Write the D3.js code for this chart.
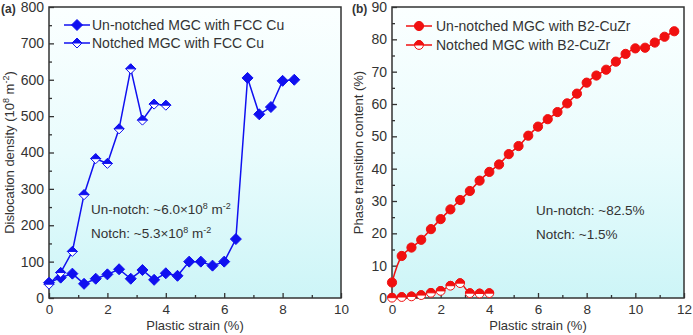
<!DOCTYPE html>
<html>
<head>
<meta charset="utf-8">
<script src="https://cdn.jsdelivr.net/npm/d3@7/dist/d3.min.js"></script>
<style>
  html, body { margin: 0; padding: 0; background: #fff; }
  svg { display: block; font-family: "Liberation Sans", Arial, sans-serif; }
</style>
</head>
<body>
<svg id="chart" width="693" height="335"></svg>
<script>
// ---- Panel (a): dislocation density, FCC Cu ----
const strainUnnotchedA = [0, 0.4, 0.8, 1.2, 1.6, 2.0, 2.4, 2.8, 3.2, 3.6, 4.0, 4.4, 4.8, 5.2, 5.6, 6.0, 6.4, 6.8, 7.2, 7.6, 8.0, 8.4];
const densityUnnotched = [42, 56, 67, 39, 53, 65, 79, 53, 77, 50, 68, 61, 100, 100, 89, 100, 162, 605, 505, 525, 597, 600];
const strainNotchedA = [0, 0.4, 0.8, 1.2, 1.6, 2.0, 2.4, 2.8, 3.2, 3.6, 4.0];
const densityNotched = [38, 70, 128, 284, 383, 370, 465, 630, 489, 533, 530];

// ---- Panel (b): phase transition content, B2-CuZr ----
const strainUnnotchedB = [0, 0.4, 0.8, 1.2, 1.6, 2.0, 2.4, 2.8, 3.2, 3.6, 4.0, 4.4, 4.8, 5.2, 5.6, 6.0, 6.4, 6.8, 7.2, 7.6, 8.0, 8.4, 8.8, 9.2, 9.6, 10.0, 10.4, 10.8, 11.2, 11.6];
const phaseUnnotched = [4.8, 13.0, 15.6, 18.0, 21.3, 24.4, 27.4, 30.3, 33.1, 36.3, 39.0, 41.3, 44.5, 47.0, 50.2, 53.0, 55.3, 57.5, 60.2, 63.2, 66.6, 68.8, 70.6, 73.1, 75.5, 77.2, 77.4, 79.0, 80.8, 82.5];
const strainNotchedB = [0, 0.4, 0.8, 1.2, 1.6, 2.0, 2.4, 2.8, 3.2, 3.6, 4.0];
const phaseNotched = [0.1, 0.3, 0.5, 0.9, 1.6, 2.2, 3.8, 4.6, 1.5, 1.4, 1.5];

// ---- Tick values ----
const ticksXA = [0, 2, 4, 6, 8, 10];
const minorXA = [1, 3, 5, 7, 9];
const ticksYA = [0, 100, 200, 300, 400, 500, 600, 700, 800];
const minorYA = [50, 150, 250, 350, 450, 550, 650, 750];
const ticksXB = [0, 2, 4, 6, 8, 10, 12];
const minorXB = [1, 3, 5, 7, 9, 11];
const ticksYB = [0, 10, 20, 30, 40, 50, 60, 70, 80, 90];
const minorYB = [5, 15, 25, 35, 45, 55, 65, 75, 85];

const BLUE = "#1010f0";
const RED = "#f01010";
const FRAME = "#333";

const svg = d3.select("#chart");

// Plot background gradient (white at top fading to pale cyan)
const defs = svg.append("defs");
const grad = defs.append("linearGradient").attr("id", "bg").attr("x1", 0).attr("y1", 0).attr("x2", 0).attr("y2", 1);
grad.append("stop").attr("offset", "0%").attr("stop-color", "#fbffff");
grad.append("stop").attr("offset", "50%").attr("stop-color", "#e9fcfd");
grad.append("stop").attr("offset", "100%").attr("stop-color", "#cdf5f7");

function diamondPath(r) {
  return `M0,${-r}L${r},0L0,${r}L${-r},0Z`;
}

function drawPanel(cfg) {
  const g = svg.append("g");
  const x = d3.scaleLinear().domain(cfg.xDomain).range([cfg.left, cfg.right]);
  const y = d3.scaleLinear().domain(cfg.yDomain).range([cfg.bottom, cfg.top]);

  g.append("rect")
    .attr("x", cfg.left).attr("y", cfg.top)
    .attr("width", cfg.right - cfg.left).attr("height", cfg.bottom - cfg.top)
    .attr("fill", "url(#bg)");

  // Axes with inward ticks
  const xAxis = g.append("g").attr("transform", `translate(0,${cfg.bottom})`)
    .call(d3.axisBottom(x).tickValues(cfg.xTicks).tickSize(-5).tickPadding(6).tickFormat(d3.format("d")));
  const xMinor = g.append("g").attr("transform", `translate(0,${cfg.bottom})`)
    .call(d3.axisBottom(x).tickValues(cfg.xMinor).tickSize(-3).tickFormat(""));
  const yAxis = g.append("g").attr("transform", `translate(${cfg.left},0)`)
    .call(d3.axisLeft(y).tickValues(cfg.yTicks).tickSize(-5).tickPadding(5).tickFormat(d3.format("d")));
  const yMinor = g.append("g").attr("transform", `translate(${cfg.left},0)`)
    .call(d3.axisLeft(y).tickValues(cfg.yMinor).tickSize(-3).tickFormat(""));

  [xAxis, xMinor, yAxis, yMinor].forEach(a => {
    a.select(".domain").remove();
    a.selectAll(".tick line").attr("stroke", FRAME).attr("stroke-width", 1.3);
    a.selectAll("text").attr("font-size", 14).attr("fill", "#333")
      .attr("font-family", "Liberation Sans, Arial, sans-serif");
  });
  xAxis.selectAll("text").attr("font-size", 13.5).attr("dy", "0.71em");

  // Frame
  g.append("rect")
    .attr("x", cfg.left).attr("y", cfg.top)
    .attr("width", cfg.right - cfg.left).attr("height", cfg.bottom - cfg.top)
    .attr("fill", "none").attr("stroke", FRAME).attr("stroke-width", 1.5);

  // Axis titles
  g.append("text")
    .attr("x", (cfg.left + cfg.right) / 2).attr("y", 330)
    .attr("text-anchor", "middle").attr("font-size", 13).attr("fill", "#333")
    .text("Plastic strain (%)");
  const yt = g.append("text")
    .attr("transform", `translate(${cfg.yTitleX},${(cfg.top + cfg.bottom) / 2}) rotate(-90)`)
    .attr("text-anchor", "middle").attr("font-size", 13).attr("fill", "#333");
  cfg.yTitle(yt);

  // Panel tag
  g.append("text").attr("x", cfg.tagX).attr("y", 13)
    .attr("font-size", 12).attr("font-weight", "bold").attr("fill", "#333")
    .text(cfg.tag);

  return { g, x, y };
}

// ---------------- Panel (a) ----------------
const A = drawPanel({
  left: 49, right: 341, top: 7, bottom: 298,
  xDomain: [0, 10], yDomain: [0, 800],
  xTicks: ticksXA, xMinor: minorXA, yTicks: ticksYA, yMinor: minorYA,
  yTitleX: 14, tag: "(a)", tagX: 1,
  yTitle: t => {
    t.append("tspan").text("Dislocation density (10");
    t.append("tspan").attr("font-size", 9).attr("dy", -5).text("8");
    t.append("tspan").attr("dy", 5).text(" m");
    t.append("tspan").attr("font-size", 9).attr("dy", -5).text("-2");
    t.append("tspan").attr("dy", 5).text(")");
  }
});

const lineA = d3.line().x(d => A.x(d[0])).y(d => A.y(d[1]));
const unA = strainUnnotchedA.map((s, i) => [s, densityUnnotched[i]]);
const noA = strainNotchedA.map((s, i) => [s, densityNotched[i]]);

A.g.append("path").datum(unA).attr("d", lineA)
  .attr("fill", "none").attr("stroke", BLUE).attr("stroke-width", 1.5);
A.g.selectAll(".mA1").data(unA).enter().append("path")
  .attr("transform", d => `translate(${A.x(d[0])},${A.y(d[1])})`)
  .attr("d", diamondPath(5.5)).attr("fill", BLUE).attr("stroke", BLUE).attr("stroke-width", 1);

A.g.append("path").datum(noA).attr("d", lineA)
  .attr("fill", "none").attr("stroke", BLUE).attr("stroke-width", 1.5);
const mA2 = A.g.selectAll(".mA2").data(noA).enter().append("g")
  .attr("transform", d => `translate(${A.x(d[0])},${A.y(d[1])})`);
mA2.append("path").attr("d", diamondPath(5)).attr("fill", "#fff").attr("stroke", BLUE).attr("stroke-width", 1);
mA2.append("path").attr("d", "M0,-5L5,0L-5,0Z").attr("fill", BLUE).attr("stroke", BLUE).attr("stroke-width", 1);

// Legend (a)
const legA = [
  { label: "Un-notched MGC with FCC Cu", y: 25, half: false },
  { label: "Notched MGC with FCC Cu", y: 43, half: true }
];
legA.forEach(l => {
  A.g.append("line").attr("x1", 64).attr("x2", 90).attr("y1", l.y).attr("y2", l.y)
    .attr("stroke", BLUE).attr("stroke-width", 1.5);
  const m = A.g.append("g").attr("transform", `translate(77,${l.y})`);
  if (l.half) {
    m.append("path").attr("d", diamondPath(5)).attr("fill", "#fff").attr("stroke", BLUE);
    m.append("path").attr("d", "M0,-5L5,0L-5,0Z").attr("fill", BLUE).attr("stroke", BLUE);
  } else {
    m.append("path").attr("d", diamondPath(5.5)).attr("fill", BLUE).attr("stroke", BLUE);
  }
  A.g.append("text").attr("x", 92).attr("y", l.y + 5).attr("font-size", 14).attr("fill", "#333").text(l.label);
});

// Annotations (a)
function sciNote(g, xPos, yPos, prefix) {
  const t = g.append("text").attr("x", xPos).attr("y", yPos).attr("font-size", 13.5).attr("fill", "#333");
  t.append("tspan").text(prefix + "×10");
  t.append("tspan").attr("font-size", 9).attr("dy", -5).text("8");
  t.append("tspan").attr("dy", 5).text(" m");
  t.append("tspan").attr("font-size", 9).attr("dy", -5).text("-2");
}
sciNote(A.g, 91, 214, "Un-notch: ~6.0");
sciNote(A.g, 91, 238, "Notch: ~5.3");

// ---------------- Panel (b) ----------------
const B = drawPanel({
  left: 392, right: 684, top: 7, bottom: 298,
  xDomain: [0, 12], yDomain: [0, 90],
  xTicks: ticksXB, xMinor: minorXB, yTicks: ticksYB, yMinor: minorYB,
  yTitleX: 363, tag: "(b)", tagX: 352,
  yTitle: t => t.text("Phase transition content (%)")
});

const lineB = d3.line().x(d => B.x(d[0])).y(d => B.y(d[1])).curve(d3.curveCatmullRom.alpha(0.5));
const unB = strainUnnotchedB.map((s, i) => [s, phaseUnnotched[i]]);
const noB = strainNotchedB.map((s, i) => [s, phaseNotched[i]]);

B.g.append("path").datum(unB).attr("d", lineB)
  .attr("fill", "none").attr("stroke", RED).attr("stroke-width", 1.5);
B.g.selectAll(".mB1").data(unB).enter().append("circle")
  .attr("cx", d => B.x(d[0])).attr("cy", d => B.y(d[1])).attr("r", 4.6)
  .attr("fill", RED).attr("stroke", RED).attr("stroke-width", 1);

B.g.append("path").datum(noB).attr("d", lineB)
  .attr("fill", "none").attr("stroke", RED).attr("stroke-width", 1.5);
const semi = r => `M${-r},0A${r},${r} 0 0 1 ${r},0Z`;
const mB2 = B.g.selectAll(".mB2").data(noB).enter().append("g")
  .attr("transform", d => `translate(${B.x(d[0])},${B.y(d[1])})`);
mB2.append("circle").attr("r", 4.4).attr("fill", "#fff").attr("stroke", RED).attr("stroke-width", 1);
mB2.append("path").attr("d", semi(4.4)).attr("fill", RED).attr("stroke", RED).attr("stroke-width", 1);

// Legend (b)
const legB = [
  { label: "Un-notched MGC with B2-CuZr", y: 26, half: false },
  { label: "Notched MGC with B2-CuZr", y: 45, half: true }
];
legB.forEach(l => {
  B.g.append("line").attr("x1", 406).attr("x2", 432).attr("y1", l.y).attr("y2", l.y)
    .attr("stroke", RED).attr("stroke-width", 1.5);
  const m = B.g.append("g").attr("transform", `translate(419,${l.y})`);
  if (l.half) {
    m.append("circle").attr("r", 4.4).attr("fill", "#fff").attr("stroke", RED);
    m.append("path").attr("d", semi(4.4)).attr("fill", RED).attr("stroke", RED);
  } else {
    m.append("circle").attr("r", 4.6).attr("fill", RED).attr("stroke", RED);
  }
  B.g.append("text").attr("x", 436).attr("y", l.y + 5).attr("font-size", 14).attr("fill", "#333").text(l.label);
});

// Annotations (b)
B.g.append("text").attr("x", 536).attr("y", 215).attr("font-size", 13.5).attr("fill", "#333").text("Un-notch: ~82.5%");
B.g.append("text").attr("x", 536).attr("y", 239).attr("font-size", 13.5).attr("fill", "#333").text("Notch: ~1.5%");
</script>
</body>
</html>
